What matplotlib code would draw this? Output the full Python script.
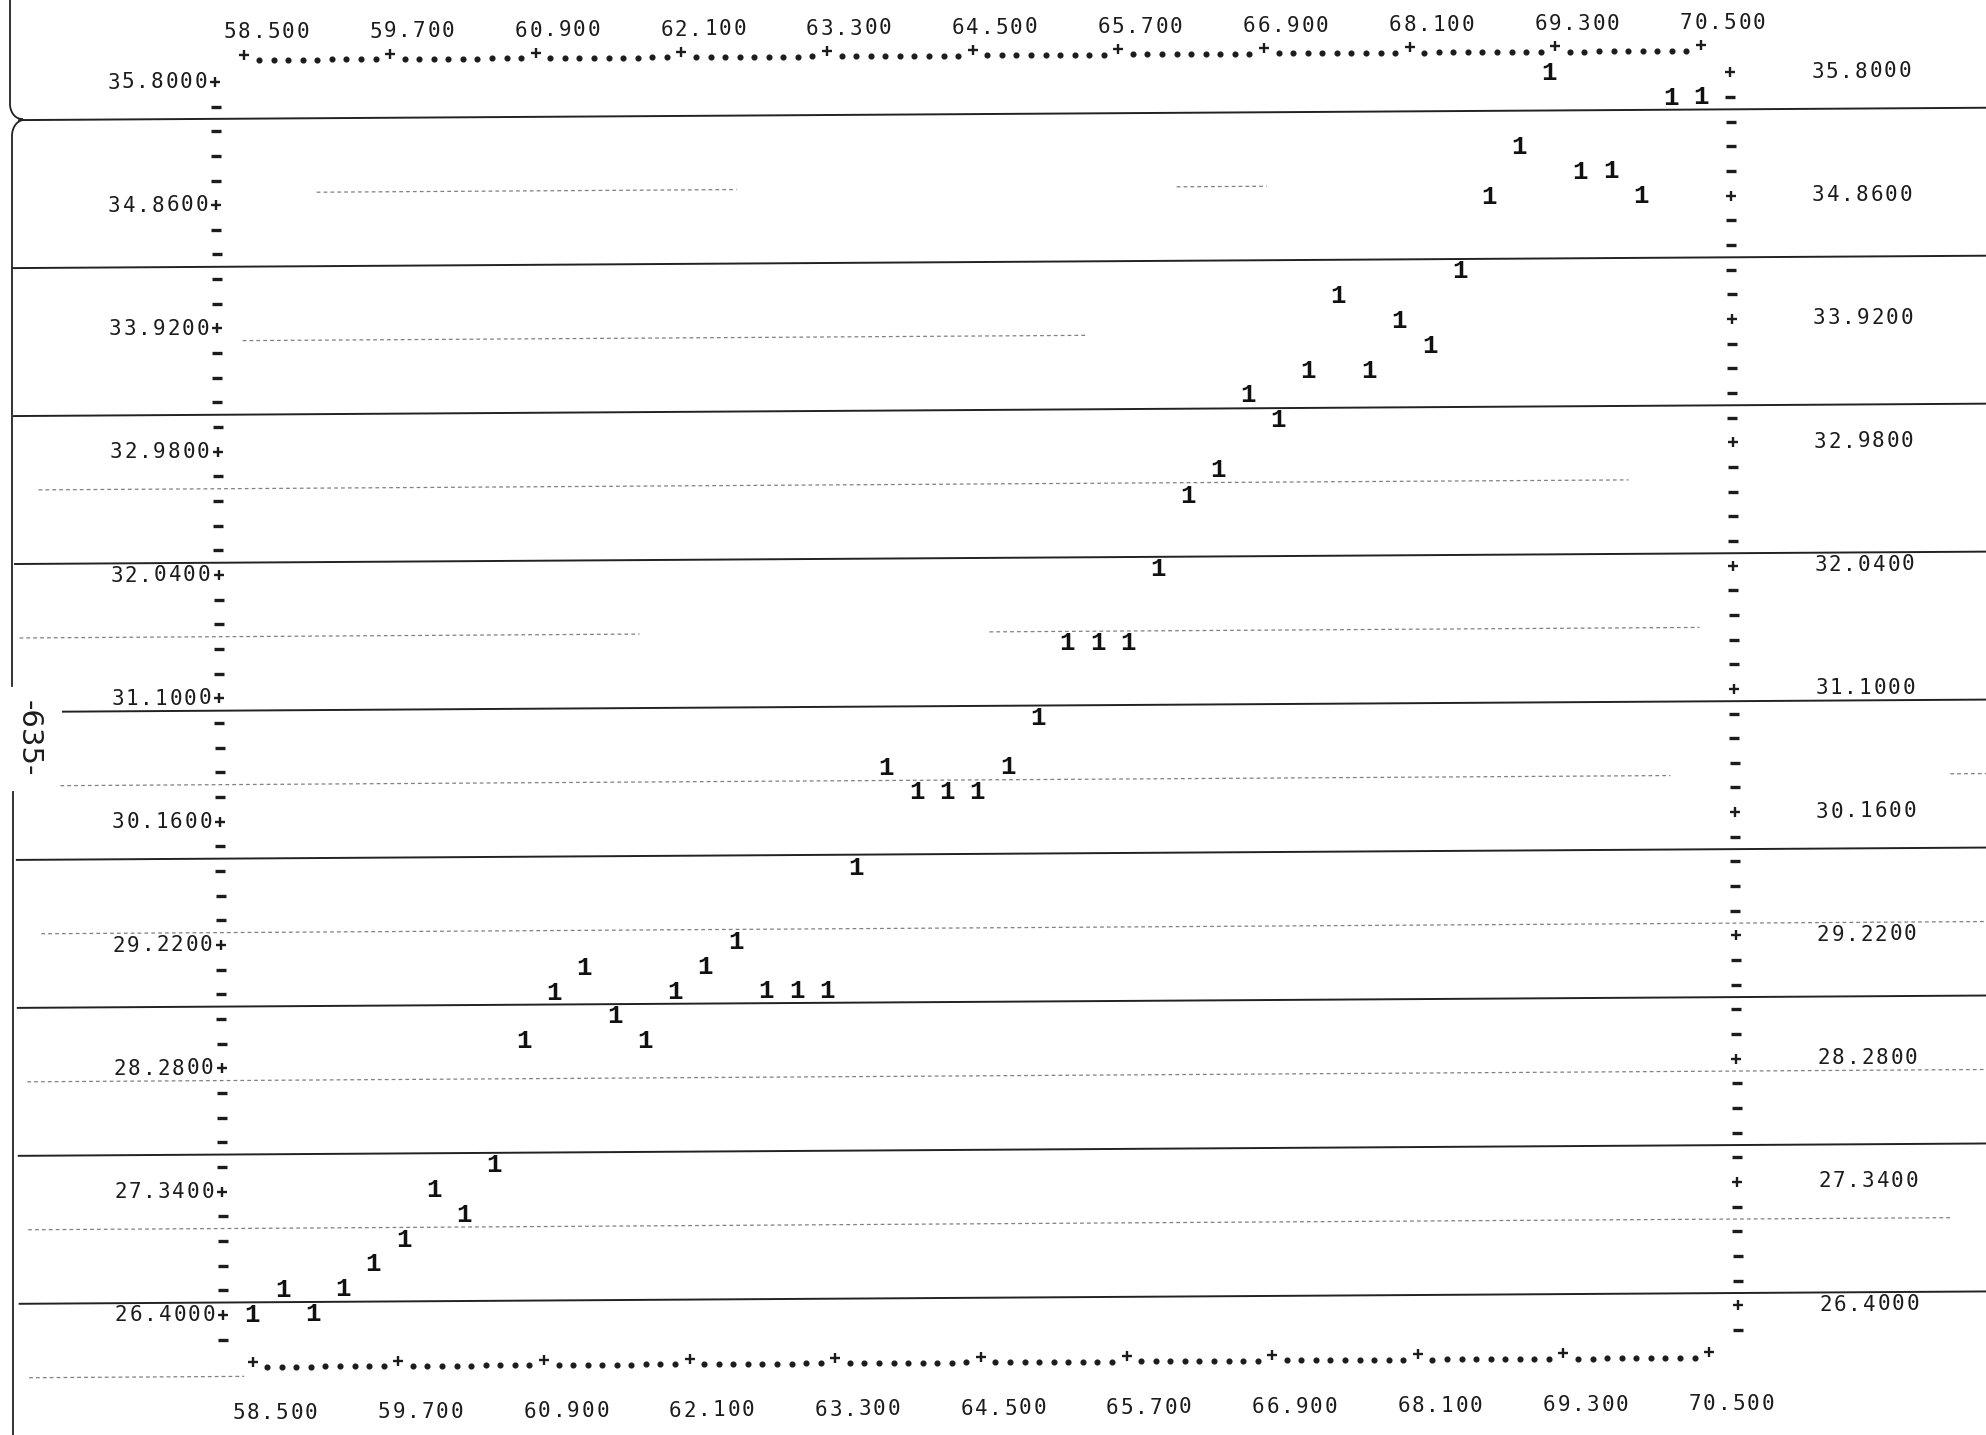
import numpy as np
import matplotlib
matplotlib.use("Agg")
import matplotlib.pyplot as plt
import matplotlib.transforms as mtransforms

# printer plot: quarterly series, 1958.5 .. 1970.5
quarters = [58.50, 58.75, 59.00, 59.25, 59.50, 59.75, 60.00, 60.25, 60.50, 60.75,
            61.00, 61.25, 61.50, 61.75, 62.00, 62.25, 62.50, 62.75, 63.00, 63.25,
            63.50, 63.75, 64.00, 64.25, 64.50, 64.75, 65.00, 65.25, 65.50, 65.75,
            66.00, 66.25, 66.50, 66.75, 67.00, 67.25, 67.50, 67.75, 68.00, 68.25,
            68.50, 68.75, 69.00, 69.25, 69.50, 69.75, 70.00, 70.25, 70.50]
values = [26.40, 26.59, 26.40, 26.59, 26.78, 26.96, 27.34, 27.15, 27.53, 28.47,
          28.84, 29.03, 28.66, 28.47, 28.84, 29.03, 29.22, 28.84, 28.84, 28.84,
          29.78, 30.54, 30.35, 30.35, 30.35, 30.54, 30.91, 31.48, 31.48, 31.48,
          32.04, 32.60, 32.79, 33.36, 33.17, 33.54, 34.11, 33.54, 33.92, 33.73,
          34.30, 34.86, 35.24, 35.80, 35.05, 35.05, 34.86, 35.61, 35.61]

x_ticks = [58.5, 59.7, 60.9, 62.1, 63.3, 64.5, 65.7, 66.9, 68.1, 69.3, 70.5]
y_ticks = [35.80, 34.86, 33.92, 32.98, 32.04, 31.10, 30.16, 29.22, 28.28, 27.34, 26.40]

W, H = 1986, 1435
INK = "#1c1c1c"
LABEL_FONT = dict(family="DejaVu Sans Mono", fontsize=15, color=INK)

fig = plt.figure(figsize=(W / 100, H / 100), dpi=100)
fig.patch.set_facecolor("white")
ax = fig.add_axes([0, 0, 1, 1])
ax.axis("off")

# map the value range onto the page (pixel anchors of the printed frame)
sx = (x_ticks[-1] - x_ticks[0]) / (1705.1 - 248.6)
X0 = x_ticks[0] - 248.6 * sx
X1 = X0 + W * sx
sy = (y_ticks[0] - y_ticks[-1]) / (1310 - 77)
Y1 = y_ticks[0] + 77 * sy
Y0 = Y1 - H * sy

# the sheet sits slightly rotated on the scanner
tilt = mtransforms.Affine2D().rotate_deg_around(W / 2, H / 2, 0.36)
tr = ax.transData + tilt

# printer grid: 10 columns per x step, 5 rows per y step
DX = (x_ticks[1] - x_ticks[0]) / 10
DY = (y_ticks[0] - y_ticks[1]) / 5


def col_x(c):
    return x_ticks[0] + c * DX


def row_y(r):
    return y_ticks[0] - r * DY


def px_x(p):
    return X0 + p * sx


def put(col, row, s, **kw):
    # one character per printer cell
    style = dict(LABEL_FONT)
    style.update(kw)
    for i, ch in enumerate(s):
        ax.text(col_x(col + i), row_y(row), ch, ha="center", va="center",
                transform=tr, **style)


# ruled lines of the paper and the faint guide lines between them
ruled = [(1.5, 22), (7.5, 15), (13.5, 15), (19.5, 15), (25.5, 62),
         (31.5, 15), (37.5, 15), (43.5, 15), (49.5, 15)]
for r, start in ruled:
    ax.plot([px_x(start), px_x(W + 10)], [row_y(r)] * 2, color="#222222",
            lw=1.4, transform=tr, solid_capstyle="butt")

faint = {4.5: [(320, 740), (1180, 1270)],
         10.5: [(245, 1090)],
         16.5: [(40, 1630)],
         22.5: [(20, 640), (990, 1700)],
         28.5: [(60, 1670), (1950, 1990)],
         34.5: [(40, 1990)],
         40.5: [(25, 1990)],
         46.5: [(25, 1950)],
         52.5: [(25, 240)]}
for r, spans in faint.items():
    for a, b in spans:
        ax.plot([px_x(a), px_x(b)], [row_y(r)] * 2, color="#808080", lw=0.9,
                ls=(0, (3, 2.5)), transform=tr)

# top and bottom frame rows: '+' every 10 columns, dots between
cols = np.arange(0, 101)
for row in (-1, 52):
    plus = cols[cols % 10 == 0]
    dots = cols[cols % 10 != 0]
    ax.plot(col_x(dots), [row_y(row + 0.12)] * len(dots), "o", ms=3.4,
            color=INK, transform=tr)
    ax.plot(col_x(plus), [row_y(row - 0.1)] * len(plus), "+", ms=6.5, mew=1.7,
            color=INK, transform=tr)

# left and right axis columns
rows = np.arange(0, 52)
for c in (-2, 102):
    major = rows[rows % 5 == 0]
    minor = rows[rows % 5 != 0]
    ax.plot([col_x(c)] * len(major), row_y(major), "+", ms=6.5, mew=1.7,
            color=INK, transform=tr)
    ax.plot([col_x(c)] * len(minor), row_y(minor), "_", ms=6.5, mew=2.4,
            color=INK, transform=tr)

# axis labels
for i, v in enumerate(y_ticks):
    put(-9, 5 * i, f"{v:.4f}")
    put(108, 5 * i, f"{v:.4f}")
for k, v in enumerate(x_ticks):
    put(10 * k - 1, -2, f"{v:.3f}")
    put(10 * k - 1, 54, f"{v:.3f}")

# the series itself, printed as '1'
for x, y in zip(quarters, values):
    ax.text(x, y, "1", ha="center", va="center", transform=tr,
            family="Liberation Mono", fontweight="bold", fontsize=18.5, color="#111111")

ax.set_xlim(X0, X1)
ax.set_ylim(Y0, Y1)


# left edge of the sheet (pixel coords, origin top-left)
def fig_line(xs, ys, **kw):
    xs = np.asarray(xs, float) / W
    ys = 1 - np.asarray(ys, float) / H
    fig.add_artist(plt.Line2D(xs, ys, transform=fig.transFigure, color="#222222",
                              lw=1.3, **kw))


t = np.linspace(np.pi, np.pi / 2, 20)
fig_line(np.r_[10, 22 + 12 * np.cos(t)], np.r_[0, 104 + 15 * np.sin(t)])
t = np.linspace(-np.pi / 2, -np.pi, 20)
fig_line(np.r_[24 + 12 * np.cos(t), 12, 12], np.r_[136 + 16 * np.sin(t), 136, 686])
fig_line([13, 13], [792, H])

fig.text(29 / W, 1 - 738 / H, "-635-", rotation=-90, ha="center", va="center",
         fontsize=21, family="DejaVu Sans", color=INK)

fig.savefig("out.png", dpi=100)
